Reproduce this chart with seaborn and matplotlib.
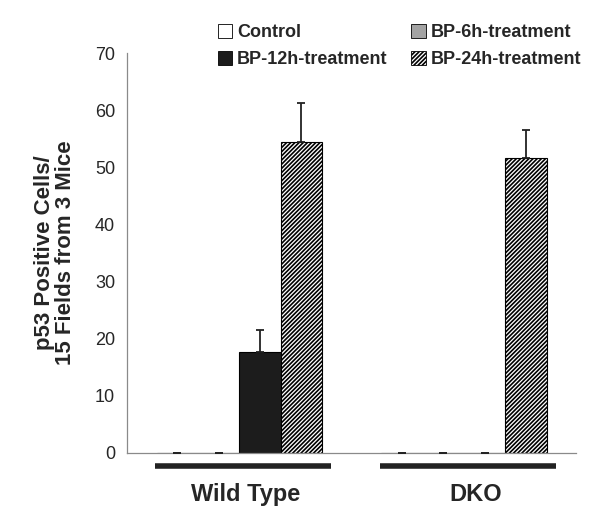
import numpy as np
import pandas as pd
import matplotlib
matplotlib.use("Agg")
import matplotlib.pyplot as plt
import seaborn as sns
from matplotlib.patches import Patch

# ---- data ----
GROUPS = ["Wild Type", "DKO"]
TREATMENTS = ["Control", "BP-6h-treatment", "BP-12h-treatment", "BP-24h-treatment"]
WT_MEAN = [0.0, 0.0, 17.7, 54.5]
WT_ERR = [0.0, 0.0, 3.8, 6.7]
DKO_MEAN = [0.0, 0.0, 0.0, 51.7]
DKO_ERR = [0.0, 0.0, 0.0, 4.8]
Y_TICKS = [0, 10, 20, 30, 40, 50, 60, 70]

FACE = {"Control": "white", "BP-6h-treatment": "#a3a3a3",
        "BP-12h-treatment": "#1c1c1c", "BP-24h-treatment": "white"}
HATCH = {"Control": "", "BP-6h-treatment": "", "BP-12h-treatment": "",
         "BP-24h-treatment": "////////"}

df = pd.DataFrame({
    "group": np.repeat(GROUPS, len(TREATMENTS)),
    "treatment": TREATMENTS * len(GROUPS),
    "value": WT_MEAN + DKO_MEAN,
    "err": WT_ERR + DKO_ERR,
})

sns.set_style("white")
plt.rcParams["font.family"] = ["Liberation Sans", "DejaVu Sans"]
plt.rcParams["hatch.linewidth"] = 1.2

fig = plt.figure(figsize=(6.01, 5.2), dpi=100)
ax = fig.add_axes([0.211, 0.129, 0.748, 0.769])

sns.barplot(data=df, x="group", y="value", hue="treatment", order=GROUPS,
            hue_order=TREATMENTS, width=0.735, palette=FACE, edgecolor="black",
            linewidth=0.8, errorbar=None, legend=False, ax=ax)

# hatch + error bars (upper only)
for cont, tr in zip(ax.containers, TREATMENTS):
    sub = df[df["treatment"] == tr].set_index("group").loc[GROUPS]
    xs, ys = [], []
    for bar in cont:
        bar.set_hatch(HATCH[tr])
        xs.append(bar.get_x() + bar.get_width() / 2)
        ys.append(bar.get_height())
    ax.errorbar(xs, ys, yerr=[np.zeros(len(xs)), sub["err"].values], fmt="none",
                ecolor="#222222", elinewidth=1.3, capsize=3, capthick=1.3, zorder=5)

ax.set_xlim(-0.5, 1.5)
ax.set_ylim(0, 70)
ax.set_yticks(Y_TICKS)
ax.set_xticks([0.027, 1.054], GROUPS)
ax.tick_params(axis="y", direction="inout", length=9, width=0.8, color="#808080",
               labelsize=13, pad=4)
ax.tick_params(axis="x", length=0, labelsize=17, pad=21.5)
for lab in ax.get_xticklabels():
    lab.set_fontweight("bold")
for s in ["top", "right"]:
    ax.spines[s].set_visible(False)
for s in ["left", "bottom"]:
    ax.spines[s].set_color("#8a8a8a")
    ax.spines[s].set_linewidth(0.9)

ax.set_xlabel("")
ax.set_ylabel("p53 Positive Cells/\n15 Fields from 3 Mice", fontsize=16,
              fontweight="bold", linespacing=1.05)
ax.yaxis.set_label_coords(-0.112, 0.5)

# thick group bars under the axis
for i in range(len(GROUPS)):
    ax.plot([i - 0.375, i + 0.41], [-2.3, -2.3], color="#222222", lw=4,
            solid_capstyle="butt", clip_on=False)

handles = [Patch(facecolor=FACE[t], edgecolor="black", hatch=HATCH[t], linewidth=0.6)
           for t in TREATMENTS]
order = [0, 2, 1, 3]
fig.legend([handles[i] for i in order], [TREATMENTS[i] for i in order],
           ncol=2, loc="upper left", bbox_to_anchor=(0.335, 0.985), frameon=False,
           prop={"weight": "bold", "size": 13}, handlelength=0.8, handleheight=0.8,
           handletextpad=0.28, columnspacing=1.3, labelspacing=0.55)

fig.savefig("out.png", dpi=100)
